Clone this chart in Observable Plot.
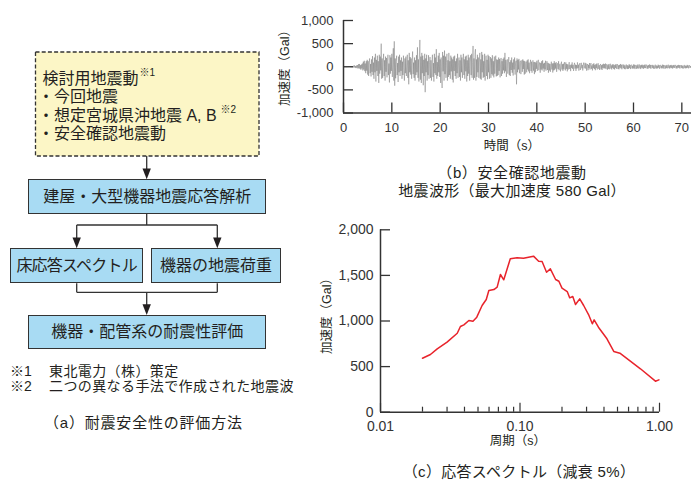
<!DOCTYPE html>
<html><head><meta charset="utf-8">
<script src="https://cdn.jsdelivr.net/npm/d3@7"></script>
<script src="https://cdn.jsdelivr.net/npm/@observablehq/plot@0.6"></script>
<style>
html,body{margin:0;padding:0;background:#fff;}
#page{position:relative;width:691px;height:483px;overflow:hidden;font-family:"Liberation Sans","Noto Sans CJK JP",sans-serif;color:#231f20;}
.abs{position:absolute;white-space:nowrap;line-height:1;}
.box{position:absolute;box-sizing:border-box;border:1.4px solid #333;background:#a8dbf3;display:flex;align-items:center;justify-content:center;font-size:16px;line-height:1;white-space:nowrap;}
</style></head>
<body><div id="page">
<svg class="abs" style="left:0;top:0" width="300" height="360">
  <rect x="35.5" y="52" width="223.5" height="104" fill="#fcf6c6" stroke="#333" stroke-width="1.3" stroke-dasharray="4 2.2"/>
  <g stroke="#333" stroke-width="1.3" fill="none">
    <path d="M146.7,156V170"/>
    <path d="M146.7,214V225M76.7,225H217.3M76.7,225V239M217.3,225V239"/>
    <path d="M76.7,283.3V292.3M217.3,283.3V292.3M76.7,292.3H217.3M146.7,292.3V306"/>
  </g>
  <g fill="#231f20">
    <path d="M142.5,168.5L150.9,168.5L146.7,179.3Z"/>
    <path d="M72.5,237.5L80.9,237.5L76.7,248.3Z"/>
    <path d="M213.1,237.5L221.5,237.5L217.3,248.3Z"/>
    <path d="M142.5,304.3L150.9,304.3L146.7,315Z"/>
  </g>
</svg>
<div class="box" style="left:28.3px;top:179.3px;width:237.7px;height:34.7px;">建屋・大型機器地震応答解析</div>
<div class="box" style="left:10px;top:248.3px;width:133.3px;height:35px;letter-spacing:-0.8px;">床応答スペクトル</div>
<div class="box" style="left:150.7px;top:248.3px;width:130.5px;height:35px;">機器の地震荷重</div>
<div class="box" style="left:28.3px;top:315px;width:237.7px;height:34.3px;">機器・配管系の耐震性評価</div>
</div>
<script>
// ---- data ----
// (b) acceleration waveform, sampled every dt seconds (Gal), one row per second
const dt = 0.1;
const accel = [
  0, 2, -3, 4, -2, 5, -4, 3, -5, 6,
  -8, 10, -6, 12, -9, 8, -12, 14, -10, 9,
  -18, 25, -12, 30, -22, 15, -30, 28, -20, 35,
  -40, 55, -30, 60, -45, 35, -65, 50, -38, 70,
  -80, 110, -60, 130, -95, 70, -140, 120, -85, 150,
  -170, 120, -200, 90, 180, -140, 60, -210, 160, -110,
  230, -180, 90, -260, 200, -120, 280, -320, 150, -90,
  240, -200, 120, -350, 260, -150, 220, -80, 500, -260,
  180, -240, 90, 280, -200, 140, -300, 220, -110, 190,
  -230, 120, 260, -180, 70, -340, 250, -150, 200, -90,
  280, -220, 150, 400, -300, 550, -410, 180, -250, 120,
  240, -180, 80, -330, 220, -120, 260, -200, 140, -90,
  200, -260, 110, -180, 240, -60, -300, 180, -140, 220,
  -200, 90, 260, -240, 140, -380, 300, -120, 210, -170,
  180, -260, 120, 330, -160, 90, -240, 200, -300, 140,
  -180, 250, -120, 420, -240, 160, -320, 200, 580, -280,
  220, -350, 300, -140, 240, -400, 150, -200, 280, -550,
  180, -120, 260, -300, 120, -180, 250, -260, 90, 210,
  -240, 140, -300, 120, 260, -220, 80, -320, 280, -140,
  200, -180, 380, -260, 100, -200, 240, -120, 300, -220,
  160, -350, 200, -120, -460, 320, -100, 240, -300, 350,
  -160, 220, -240, 90, 280, -300, 140, -220, 300, -180,
  120, -260, 240, -100, 200, -280, 160, -340, 220, -90,
  240, -200, 120, -260, 180, -140, 280, -240, 90, 200,
  -220, 140, -300, 260, -120, 200, -240, 80, 280, -180,
  160, -260, 220, -100, 240, -320, 140, -200, 260, -150,
  200, -300, 120, 250, -180, 280, -240, 100, 450, -280,
  180, -240, 300, 380, -300, 160, -220, 260, -120, 200,
  -240, 100, 300, -260, 160, -280, 320, -120, 260, -240,
  120, -220, 280, -300, 80, 240, -200, 150, -270, 260,
  -120, 230, -260, 90, 210, -240, 180, -160, 250, -190,
  120, -230, 220, -150, 100, 240, -210, 160, -200, 150,
  -180, 200, -90, 170, -230, 60, 190, -200, 120, -150,
  170, -80, 200, -140, 300, -100, 150, -220, 90, 160,
  -150, 60, 210, -180, 100, -200, 140, -70, 200, -130,
  90, -190, 160, -60, 200, -170, 80, 130, -380, 180,
  -120, 150, -60, 170, -140, 90, 130, -160, 60, 140,
  -110, 160, -50, 130, -170, 120, -150, 70, 110, -120,
  140, -60, 160, -100, 90, -140, 50, 150, -90, 110,
  -130, 40, 140, -85, 100, -160, 105, -120, 90, -45,
  130, -90, 60, 150, -75, 40, 95, -130, 80, -60,
  120, -80, 140, -40, 70, -110, 85, -55, 130, -85,
  50, 120, -70, 85, -130, 75, -80, 60, -110, 45,
  110, -60, 70, -125, 75, -80, 120, -65, 80, -40,
  100, -110, 40, 75, -50, 120, -75, 45, 65, -100,
  35, 110, -60, 55, -90, 65, -55, 100, 30, -80,
  95, -45, 60, -100, 50, -60, 40, 100, -50, 35,
  -95, 50, -25, 95, -45, 40, -90, 30, 85, -40,
  45, -90, 35, -40, 95, -30, 45, -85, 30, 80,
  -70, 25, 85, -35, 40, -80, 30, 90, -35, 20,
  85, -40, 70, -85, 25, 60, -75, 40, -30, 80,
  -60, 35, 80, -45, 30, -80, 60, -30, 75, -50,
  40, -75, 55, -30, 70, -60, 25, 75, -45, 35,
  -70, 30, 60, -55, 35, -70, 50, -25, 65, -40,
  55, -30, 70, -50, 25, 60, -65, 35, -45, 60,
  -55, 25, 65, -40, 30, -60, 50, -25, 55, -50,
  35, -60, 45, -25, 60, -45, 20, 55, -50, 30,
  -55, 40, -20, 60, -35, 45, -55, 25, 50, -30,
  45, -50, 30, -55, 20, 50, -40, 35, -50, 25,
  -45, 55, -25, 40, -50, 30, 45, -35, 20, -45,
  50, -30, 45, -50, 25, 40, -45, 30, -35, 50,
  -40, 25, 50, -35, 30, -50, 40, -20, 45, -35,
  30, -45, 40, -25, 50, -30, 20, 45, -40, 25,
  -45, 35, -20, 50, -30, 40, -45, 25, 40, -25,
  40, -40, 25, -45, 20, 45, -35, 30, -40, 20,
  -35, 45, -20, 35, -45, 25, 40, -30, 20, -40,
  45, -25, 40, -45, 20, 35, -40, 25, -30, 40,
  -35, 20, 45, -30, 25, -40, 35, -20, 40, -30,
  25, -40, 35, -20, 40, -25, 20, 40, -35, 20,
  -40, 30, -20, 40, -25, 35, -40, 20, 35, -25,
  35, -35, 20, -40, 15, 40, -30, 25, -35, 20,
  -30, 40, -20, 30, -35, 20, 35, -25, 15, -20
];
const waveXTicks = [0, 10, 20, 30, 40, 50, 60, 70];
const waveYTicks = [-1000, -500, 0, 500, 1000];

// (c) response spectrum, damping 5%
const periods = [0.02, 0.0228, 0.0255, 0.030, 0.0355, 0.0374, 0.0396, 0.043, 0.046, 0.049,
  0.0535, 0.0573, 0.0598, 0.065, 0.0686, 0.0724, 0.0765, 0.0852, 0.0953, 0.106,
  0.125, 0.136, 0.144, 0.155, 0.165, 0.18, 0.19, 0.20, 0.218, 0.227,
  0.239, 0.25, 0.268, 0.286, 0.31, 0.33, 0.34, 0.365, 0.42, 0.47,
  0.52, 0.73, 0.935, 0.99];
const spectrum = [592, 633, 695, 768, 866, 940, 958, 1005, 998, 1042,
  1170, 1236, 1334, 1345, 1371, 1510, 1452, 1682, 1693, 1689,
  1711, 1656, 1652, 1535, 1572, 1455, 1436, 1360, 1323, 1254,
  1269, 1181, 1243, 1170, 1071, 969, 1013, 932, 805, 666,
  647, 476, 340, 355];
const specMajorTicks = [0.01, 0.1, 1];
const specMinorTicks = [0.02, 0.03, 0.04, 0.05, 0.06, 0.07, 0.08, 0.09, 0.2, 0.3, 0.4, 0.5, 0.6, 0.7, 0.8, 0.9];
const specYTicks = [0, 500, 1000, 1500, 2000];

// texts
const flowInput = ["検討用地震動", "・今回地震", "・想定宮城県沖地震 A, B", "・安全確認地震動"];
const notes = [["※1", "東北電力（株）策定"], ["※2", "二つの異なる手法で作成された地震波"]];

// ---- rendering ----
const page = document.getElementById("page");
const fmt = d => d.toLocaleString("en-US");
const FONT = "'Liberation Sans','Noto Sans CJK JP',sans-serif";

function T(text, x, y, o = {}) {
  const el = document.createElement("div");
  el.className = "abs";
  el.textContent = text;
  el.style.left = x + "px";
  el.style.top = y + "px";
  el.style.fontSize = (o.size || 14) + "px";
  if (o.ls) el.style.letterSpacing = o.ls + "px";
  const ax = o.anchor === "middle" ? "-50%" : o.anchor === "end" ? "-100%" : "0";
  el.style.transform = o.rotate ? `translate(-50%,-50%) rotate(${o.rotate}deg)` : `translate(${ax},-50%)`;
  page.appendChild(el);
  return el;
}

// flowchart texts
T(flowInput[0], 42.5, 78.5, {size: 16});
T(flowInput[1], 38, 97, {size: 16});
T(flowInput[2], 38, 115.5, {size: 16});
T(flowInput[3], 38, 134, {size: 16});
T("※1", 139.5, 73, {size: 10});
T("※2", 220.5, 109.5, {size: 10});
T(notes[0][0], 10, 370.5, {size: 14});
T(notes[0][1], 49, 370.5, {size: 14, ls: 0.4});
T(notes[1][0], 10, 386, {size: 14});
T(notes[1][1], 49, 386, {size: 14, ls: 0.4});
T("（a）耐震安全性の評価方法", 44, 422, {size: 15, ls: 0.8});

// (b) waveform
const waveData = accel.map((a, i) => ({t: i * dt, a}));
const wave = Plot.plot({
  width: 421, height: 160,
  marginLeft: 73, marginRight: 0, marginTop: 20, marginBottom: 47.5,
  x: {domain: [0, 72]},
  y: {domain: [-1000, 1000]},
  style: {fontFamily: FONT, fontSize: "13px", color: "#333", background: "transparent", overflow: "visible"},
  marks: [
    Plot.lineY(waveData, {x: "t", y: "a", stroke: "#4a4a4a", strokeOpacity: 0.36, strokeWidth: 0.9}),
    Plot.axisX(waveXTicks, {tickSize: -10, tickFormat: () => "", label: null, strokeWidth: 1.3}),
    Plot.axisX(waveXTicks, {tickSize: 0, tickPadding: 10, label: null}),
    Plot.axisY(waveYTicks, {tickSize: -10, tickFormat: () => "", label: null, strokeWidth: 1.3}),
    Plot.axisY(waveYTicks, {tickSize: 0, tickPadding: 10, tickFormat: fmt, label: null}),
    Plot.ruleX([0], {stroke: "#333", strokeWidth: 1.5}),
    Plot.ruleY([-1000], {stroke: "#333", strokeWidth: 1.5})
  ]
});
const wb = document.createElement("div");
wb.className = "abs"; wb.style.left = "270px"; wb.style.top = "0px";
wb.appendChild(wave); page.appendChild(wb);
T("加速度（Gal）", 285, 64.5, {size: 12.5, rotate: -90});
T("時間（s）", 512, 145.5, {size: 12.5, anchor: "middle"});
T("（b）安全確認地震動", 512, 172, {size: 15, anchor: "middle", ls: 0.6});
T("地震波形（最大加速度 580 Gal）", 512, 190, {size: 15, anchor: "middle", ls: 0.3});

// (c) response spectrum
const specData = periods.map((p, i) => ({p, v: spectrum[i]}));
const spec = Plot.plot({
  width: 391, height: 240,
  marginLeft: 80, marginRight: 32, marginTop: 14.3, marginBottom: 43.3,
  x: {type: "log", domain: [0.01, 1]},
  y: {domain: [0, 2000]},
  style: {fontFamily: FONT, fontSize: "14px", color: "#333", background: "transparent", overflow: "visible"},
  marks: [
    Plot.axisX(specMinorTicks, {tickSize: -5, tickFormat: () => "", label: null, strokeWidth: 1.2}),
    Plot.axisX(specMajorTicks, {tickSize: -9, tickFormat: () => "", label: null, strokeWidth: 1.2}),
    Plot.axisX(specMajorTicks, {tickSize: 0, tickPadding: 9, tickFormat: d => d.toFixed(2), label: null}),
    Plot.axisY(specYTicks, {tickSize: -10, tickFormat: () => "", label: null, strokeWidth: 1.3}),
    Plot.axisY(specYTicks, {tickSize: 0, tickPadding: 7, tickFormat: fmt, label: null}),
    Plot.ruleX([0.01], {stroke: "#333", strokeWidth: 1.5}),
    Plot.ruleY([0], {stroke: "#333", strokeWidth: 1.5}),
    Plot.line(specData, {x: "p", y: "v", stroke: "#e8232b", strokeWidth: 1.5})
  ]
});
const sb = document.createElement("div");
sb.className = "abs"; sb.style.left = "300px"; sb.style.top = "215px";
sb.appendChild(spec); page.appendChild(sb);
T("加速度（Gal）", 327, 313, {size: 12.5, rotate: -90});
T("周期（s）", 518, 441, {size: 12.5, anchor: "middle"});
T("（c）応答スペクトル（減衰 5%）", 519, 471, {size: 15, anchor: "middle", ls: 0.3});
</script>
</body></html>
